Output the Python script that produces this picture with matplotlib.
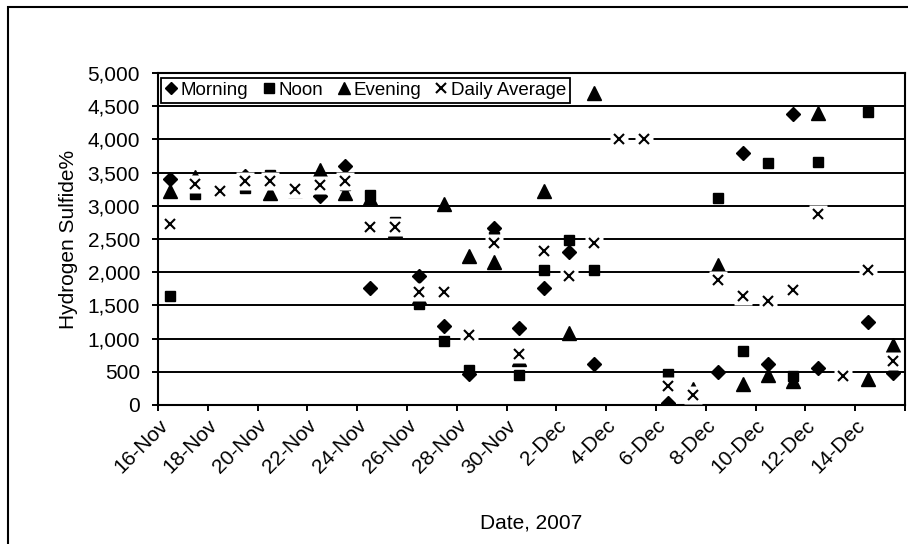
import matplotlib
matplotlib.use('Agg')
import matplotlib.pyplot as plt
from matplotlib.patches import Rectangle
from matplotlib.lines import Line2D
import pandas as pd

plt.rcParams['font.family'] = ['Liberation Sans', 'DejaVu Sans']

# readings per day (Nov 16 - Dec 15, 2007)
days = ['16-Nov', '17-Nov', '18-Nov', '19-Nov', '20-Nov', '21-Nov', '22-Nov', '23-Nov',
        '24-Nov', '25-Nov', '26-Nov', '27-Nov', '28-Nov', '29-Nov', '30-Nov', '1-Dec',
        '2-Dec', '3-Dec', '4-Dec', '5-Dec', '6-Dec', '7-Dec', '8-Dec', '9-Dec',
        '10-Dec', '11-Dec', '12-Dec', '13-Dec', '14-Dec', '15-Dec']
morning = [3400, 3380, 3240, 3450, 3420, 3260, 3150, 3600, 1760, 2640,
           1950, 1190, 470, 2660, 1160, 1760, 2310, 620, 4000, 4010,
           30, 100, 500, 3800, 620, 4390, 560, 430, 1250, 480]
noon = [1640, 3180, 3200, 3270, 3460, 3240, 3280, 3320, 3170, 2760,
        1520, 970, 530, 2530, 450, 2040, 2490, 2040, 3990, 3990,
        460, 110, 3120, 820, 3640, 440, 3660, 440, 4420, 620]
evening = [3220, 3430, 3220, 3380, 3200, 3240, 3540, 3200, 3110, 2640,
           1630, 3030, 2240, 2150, 700, 3220, 1080, 4700, 4010, 4000,
           350, 240, 2110, 310, 450, 360, 4400, 450, 390, 910]
daily_avg = [2730, 3330, 3220, 3370, 3380, 3250, 3320, 3370, 2680, 2680,
             1700, 1700, 1060, 2440, 770, 2320, 1950, 2440, 4000, 4000,
             280, 150, 1880, 1640, 1560, 1730, 2880, 440, 2030, 670]

tick_days = ['16-Nov', '18-Nov', '20-Nov', '22-Nov', '24-Nov', '26-Nov', '28-Nov',
             '30-Nov', '2-Dec', '4-Dec', '6-Dec', '8-Dec', '10-Dec', '12-Dec',
             '14-Dec', '16-Dec']
tick_labels = tick_days[:-1] + ['']

def to_date(d):
    return pd.to_datetime(d + '-2007', format='%d-%b-%Y')

x = [to_date(d) + pd.Timedelta(hours=12) for d in days]
xt = [to_date(d) for d in tick_days]

fig = plt.figure(figsize=(9.08, 5.44), dpi=100)
ax = fig.add_axes([158/908, 139/544, 747/908, 332/544])

ax.plot(x, morning, ls='none', marker='D', ms=7, color='black', zorder=3)
ax.plot(x, noon, ls='none', marker='s', ms=7.7, color='black', zorder=3)
ax.plot(x, evening, ls='none', marker='^', ms=9.8, color='black', zorder=3)
# white marker box behind the x, as in the spreadsheet chart
ax.plot(x, daily_avg, ls='none', marker='s', ms=13, mfc='white', mec='none', zorder=4)
ax.plot(x, daily_avg, ls='none', marker='x', ms=7, mew=1.5, color='black', zorder=5)

ax.set_xlim(xt[0], xt[-1])
ax.set_ylim(0, 5000)
ax.set_yticks(range(0, 5001, 500))
ax.set_yticklabels([f'{v:,}' for v in range(0, 5001, 500)])
ax.set_xticks(xt)
ax.set_xticklabels(tick_labels, rotation=45, ha='right', rotation_mode='anchor')

ax.yaxis.grid(True, color='black', lw=1.4)
ax.set_axisbelow(True)
for s in ax.spines.values():
    s.set_linewidth(1.5)
ax.tick_params(axis='both', direction='out', length=4, width=1.4, labelsize=15)
ax.tick_params(axis='y', pad=9)
ax.tick_params(axis='x', pad=4)

ax.set_xlabel('Date, 2007', fontsize=15, labelpad=26)
ax.set_ylabel('Hydrogen Sulfide%', fontsize=15, labelpad=7)

handles = [
    Line2D([], [], ls='none', marker='D', ms=6, color='black'),
    Line2D([], [], ls='none', marker='s', ms=6.5, color='black'),
    Line2D([], [], ls='none', marker='^', ms=8.5, color='black'),
    Line2D([], [], ls='none', marker='x', ms=6.5, mew=1.5, color='black'),
]
leg = ax.legend(handles, ['Morning', 'Noon', 'Evening', 'Daily Average'],
                loc='upper left', bbox_to_anchor=(0.004, 0.985), ncol=4,
                fontsize=13.5, handlelength=0.7, handletextpad=0.15,
                columnspacing=0.75, borderpad=0.2, borderaxespad=0,
                fancybox=False, framealpha=1, edgecolor='black')
leg.get_frame().set_linewidth(1.3)
leg.set_zorder(6)

fig.add_artist(Rectangle((8/908, -0.05), 1.1, (544 - 7)/544 + 0.05,
                         transform=fig.transFigure, fill=False,
                         edgecolor='black', lw=1.5))

fig.savefig('out.png', dpi=100)
